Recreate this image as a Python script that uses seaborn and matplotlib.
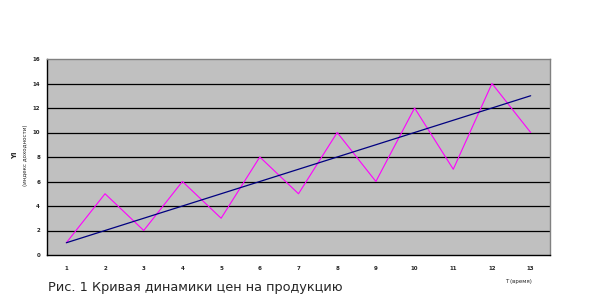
import matplotlib
matplotlib.use("Agg")
import matplotlib.pyplot as plt
import seaborn as sns
import pandas as pd
from matplotlib.ticker import FixedLocator

periods = list(range(1, 14))
prices = [1, 5, 2, 6, 3, 8, 5, 10, 6, 12, 7, 14, 10]
trend = [1, 2, 3, 4, 5, 6, 7, 8, 9, 10, 11, 12, 13]
y_ticks = [0, 2, 4, 6, 8, 10, 12, 14, 16]

df = pd.DataFrame({"t": periods, "price": prices, "trend": trend})

sns.set_style("white")
plt.rcParams['font.family'] = ['DejaVu Sans']

fig = plt.figure(figsize=(6.11, 3.06), dpi=100)
ax = fig.add_axes([47/611, 1-255/306, (550-47)/611, (255-59)/306])
ax.set_facecolor("#C0C0C0")

sns.lineplot(data=df, x="t", y="price", ax=ax, color="#FF00FF", linewidth=0.8)
sns.lineplot(data=df, x="t", y="trend", ax=ax, color="#000080", linewidth=0.9)

ax.set_xlim(0.5, 13.5)
ax.set_ylim(0, 16)
ax.set_yticks(y_ticks)
ax.set_xticks(periods)
ax.xaxis.set_minor_locator(FixedLocator([p + 0.5 for p in [0] + periods]))
ax.tick_params(axis="x", which="major", length=0, labelsize=4, pad=8)
ax.tick_params(axis="x", which="minor", length=3, width=0.8, direction="out", color="black")
ax.tick_params(axis="y", which="major", length=3, width=0.8, direction="out", labelsize=4, pad=2, color="black")
for lbl in ax.get_xticklabels() + ax.get_yticklabels():
    lbl.set_fontweight("bold")
for v in y_ticks[1:-1]:
    ax.axhline(v, color="black", linewidth=0.9, zorder=1)
ax.set_xlabel("")
ax.set_ylabel("")
for s in ["left", "bottom"]:
    ax.spines[s].set_color("black")
    ax.spines[s].set_linewidth(1.0)
for s in ["top", "right"]:
    ax.spines[s].set_color("#808080")
    ax.spines[s].set_linewidth(1.0)

fig.text(15/611, 1-155/306, "Yi", rotation=90, fontsize=5, ha="center", va="center", fontweight="bold")
fig.text(26/611, 1-155/306, "(индекс доходности)", rotation=90, fontsize=4, ha="center", va="center")
fig.text(518/611, 1-281/306, "T (время)", fontsize=4, ha="center", va="center")
fig.text(48/611, 1-288/306, "Рис. 1 Кривая динамики цен на продукцию", fontsize=9.3, ha="left", va="center")

fig.savefig("out.png", dpi=100)
